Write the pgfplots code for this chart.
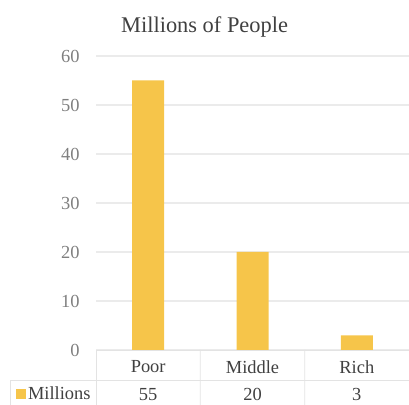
\documentclass[border=0pt]{standalone}
\usepackage{fontspec}
\setmainfont{Liberation Serif}
\usepackage{pgfplots}
\pgfplotsset{compat=1.18}
\definecolor{barcol}{HTML}{F6C54A}
\definecolor{gridcol}{HTML}{EBEBEB}
\definecolor{tablecol}{HTML}{E3E3E3}
\definecolor{txt}{HTML}{404040}
\definecolor{ticktxt}{HTML}{7F7F7F}
\begin{document}
\begin{tikzpicture}
\useasboundingbox (0,0) rectangle (409bp,405bp);
\begin{axis}[
    at={(96bp,55bp)}, anchor=south west,
    scale only axis,
    width=313bp, height=294bp,
    xmin=-0.5, xmax=2.5,
    ymin=0, ymax=60,
    ytick={0,10,...,60},
    xtick={0,1,2},
    xticklabels={{Poor\\[9bp]55},{Middle\\[9bp]20},{Rich\\[9bp]3}},
    x tick label style={align=center, font=\fontsize{18.5}{18.5}\selectfont, text=txt, yshift=-7bp},
    y tick label style={font=\fontsize{18.5}{18.5}\selectfont, text=ticktxt, xshift=-13bp},
    /pgf/number format/assume math mode=true,
    major tick length=0pt,
    axis line style={draw=none},
    ymajorgrids,
    grid style={gridcol, line width=1.2bp},
    clip=false,
    title={Millions of People},
    title style={at={(0.347,1)}, anchor=base, yshift=18bp, font=\fontsize{22.5}{22.5}\selectfont, text=txt},
    legend style={at={(-0.256,-0.148)}, anchor=west, draw=none, fill=none,
        font=\fontsize{18.5}{18.5}\selectfont, text=txt, inner xsep=0bp,
        legend cell align=left},
    legend image code/.code={\fill[barcol] (0bp,-5bp) rectangle (10bp,5bp);},
]
\addplot[ybar, bar width=32bp, fill=barcol, draw=none] coordinates {(0,55) (1,20) (2,3)};
\legend{Millions}
\draw[tablecol, line width=0.8bp] (rel axis cs:0,0) -- (rel axis cs:1,0);
\draw[tablecol, line width=0.8bp] (rel axis cs:-0.275,-0.102) -- (rel axis cs:1,-0.102);
\draw[tablecol, line width=0.8bp] (rel axis cs:0,0) -- (rel axis cs:0,-0.19);
\draw[tablecol, line width=0.8bp] (axis cs:0.5,0) -- (rel axis cs:0.3333,-0.19);
\draw[tablecol, line width=0.8bp] (axis cs:1.5,0) -- (rel axis cs:0.6667,-0.19);
\draw[tablecol, line width=0.8bp] (rel axis cs:-0.275,-0.102) -- (rel axis cs:-0.275,-0.19);
\end{axis}
\end{tikzpicture}
\end{document}
